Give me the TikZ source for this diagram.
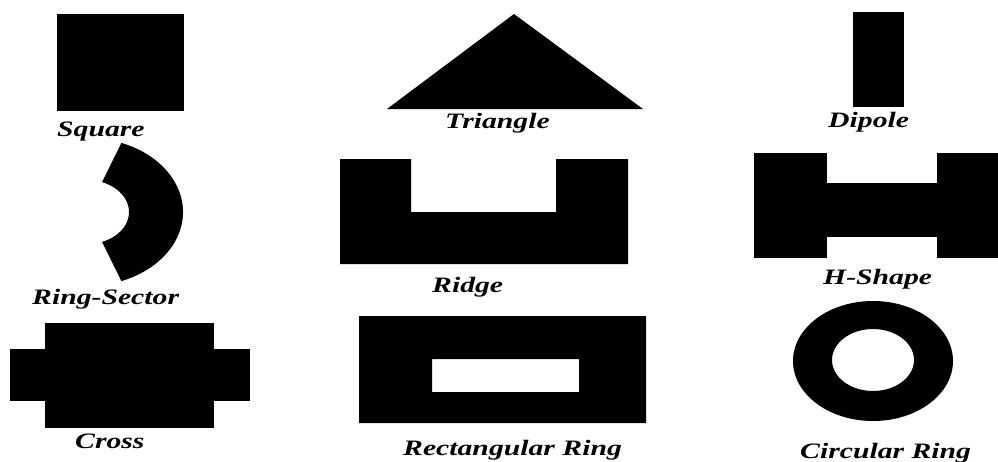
\documentclass[tikz,border=0pt]{standalone}
\usepackage{fontspec}
\setmainfont{Liberation Serif}
\usepackage{graphicx}
\usetikzlibrary{calc}
\tikzset{
  solid fill/.style={fill=black, draw=none},
  lbl/.style={anchor=base west, inner sep=0pt, font=\fontsize{22}{22}\selectfont\bfseries\itshape}
}
\newcommand{\wide}[1]{\scalebox{1.35}[1]{#1}}
\begin{document}
\begin{tikzpicture}[x=1pt,y=-1pt]
\useasboundingbox (0,0) rectangle (998,461);
% Square
\fill[solid fill] (57,14) rectangle (184,111);
\node[lbl] (lsquare) at (57,136) {\wide{Square}};
% Triangle
\fill[solid fill] (514,14) -- (643,109) -- (387,109) -- cycle;
\node[lbl] (ltriangle) at (445,128) {\wide{Triangle}};
% Dipole
\fill[solid fill] (853,12) rectangle (904,107);
\node[lbl] (ldipole) at (828,127) {\wide{Dipole}};
% Ring sector
\coordinate (sc) at (87,212);
\fill[solid fill] ($(sc)+(-69:96 and 74)$) arc[start angle=-69, end angle=69, x radius=96, y radius=74]
  -- ($(sc)+(69:42 and 32)$) arc[start angle=69, end angle=-69, x radius=42, y radius=32] -- cycle;
\node[lbl] (lsector) at (32,304) {\wide{Ring-Sector}};
% Ridge
\fill[solid fill] (340,159) -- (411,159) -- (411,212) -- (556,212) -- (556,159) -- (628,159)
  -- (628,264) -- (340,264) -- cycle;
\node[lbl] (lridge) at (432,292) {\wide{Ridge}};
% H-shape
\fill[solid fill] (754,153) rectangle (827,258);
\fill[solid fill] (827,183) rectangle (937,237);
\fill[solid fill] (937,153) rectangle (998,258);
\node[lbl] (lhshape) at (823,284) {\wide{H-Shape}};
% Cross
\fill[solid fill] (45,323) rectangle (214,428);
\fill[solid fill] (10,349) rectangle (250,401);
\node[lbl] (lcross) at (75,448) {\wide{Cross}};
% Rectangular ring
\fill[solid fill, even odd rule] (359,316) rectangle (646,423) (432,359) rectangle (579,392);
\node[lbl] (lrect) at (403,455) {\wide{Rectangular Ring}};
% Circular ring
\fill[solid fill, even odd rule] (873,361) ellipse[x radius=80, y radius=60] (873,360) ellipse[x radius=41, y radius=31];
\node[lbl] (lcirc) at (800,458) {\wide{Circular Ring}};
\end{tikzpicture}
\end{document}
